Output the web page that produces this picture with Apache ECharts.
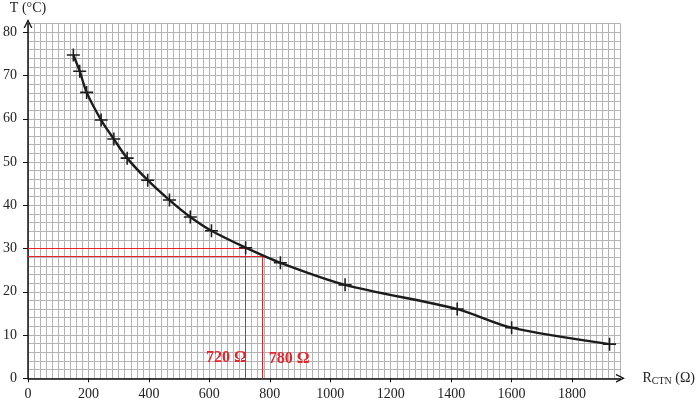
<!DOCTYPE html>
<html>
<head>
<meta charset="utf-8">
<script src="https://cdn.jsdelivr.net/npm/echarts@6/dist/echarts.min.js"></script>
<style>
html,body{margin:0;padding:0;background:#fff;}
#chart{width:698px;height:402px;}
</style>
</head>
<body>
<div id="chart"></div>
<script>
// ---- data ----
const resistance = [150, 171, 194, 242, 284, 328, 396, 468, 537, 607, 720, 835, 1049, 1420, 1600, 1924];
const temperature = [74.75, 71.0, 66.1, 59.7, 55.3, 50.9, 45.8, 41.2, 37.3, 34.1, 30.2, 26.7, 21.6, 16.0, 11.7, 7.9];
const xTickLabels = [0, 200, 400, 600, 800, 1000, 1200, 1400, 1600, 1800];
const yTickLabels = [0, 10, 20, 30, 40, 50, 60, 70, 80];
const readR = [720, 774];
const readT = [30, 28.3];
const readLabels = ['720 Ω', '780 Ω'];
const readLabelPos = [[656, 4.7], [864, 4.6]];

const serif = '"Liberation Serif", "DejaVu Serif", serif';
const red = '#e8232b';
const chevron = 'path://M0,10 L5,0 L10,10 L8.4,10 L5,3.2 L1.6,10 Z';
const cross = 'path://M4.4,0 H5.6 V4.4 H10 V5.6 H5.6 V10 H4.4 V5.6 H0 V4.4 H4.4 Z';

const points = resistance.map((r, i) => [r, temperature[i]]);

const markLines = [];
readR.forEach((r, i) => {
  markLines.push([{ coord: [0, readT[i]] }, { coord: [r, readT[i]] }]);
  markLines.push([{ coord: [r, 0] }, { coord: [r, readT[i]] }]);
});

const gridLine = { show: true, lineStyle: { color: '#b3b3b3', width: 1 } };

const chart = echarts.init(document.getElementById('chart'), null, { renderer: 'canvas' });
chart.setOption({
  animation: false,
  backgroundColor: '#fff',
  grid: { left: 27.3, top: 23.6, width: 594, height: 354.7, containLabel: false },
  xAxis: [
    {
      type: 'value', min: 0, max: 1960, interval: 20,
      axisLine: { show: false }, axisTick: { show: false }, axisLabel: { show: false },
      splitLine: gridLine
    },
    {
      type: 'value', min: 0, max: 1960, interval: 200, position: 'bottom',
      name: 'R{sub|CTN} (Ω)', nameLocation: 'end', nameGap: 22,
      nameTextStyle: {
        fontFamily: serif, fontSize: 14, color: '#222', align: 'left', verticalAlign: 'middle',
        rich: { sub: { fontFamily: serif, fontSize: 10, color: '#222', verticalAlign: 'bottom', padding: [6, 0, 0, 0] } }
      },
      axisLine: { show: true, onZero: false, lineStyle: { color: '#111', width: 1.5 }, symbol: ['none', chevron], symbolSize: [9, 9] },
      axisTick: { show: true, customValues: xTickLabels, length: 4, lineStyle: { color: '#111', width: 1 } },
      axisLabel: { show: true, customValues: xTickLabels, margin: 9, fontFamily: serif, fontSize: 14, color: '#222', formatter: v => String(v) },
      splitLine: { show: false }
    }
  ],
  yAxis: [
    {
      type: 'value', min: 0, max: 82, interval: 2,
      axisLine: { show: false }, axisTick: { show: false }, axisLabel: { show: false },
      splitLine: gridLine
    },
    {
      type: 'value', min: 0, max: 82, interval: 10, position: 'left',
      name: 'T (°C)', nameLocation: 'end', nameGap: 8,
      nameTextStyle: { fontFamily: serif, fontSize: 14, color: '#222', align: 'center', verticalAlign: 'bottom' },
      axisLine: { show: true, onZero: false, lineStyle: { color: '#111', width: 1.5 }, symbol: ['none', chevron], symbolSize: [9, 9] },
      axisTick: { show: true, customValues: yTickLabels, length: 5, lineStyle: { color: '#111', width: 1 } },
      axisLabel: { show: true, customValues: yTickLabels, margin: 11, fontFamily: serif, fontSize: 14, color: '#222', formatter: v => String(v) },
      splitLine: { show: false }
    }
  ],
  series: [
    {
      type: 'line',
      xAxisIndex: 1, yAxisIndex: 1,
      data: [],
      silent: true,
      markLine: {
        silent: true, symbol: ['none', 'none'], label: { show: false },
        lineStyle: { color: red, width: 1, type: 'solid' },
        data: markLines
      },
      markPoint: {
        silent: true, symbol: 'circle', symbolSize: 0,
        label: { show: true, position: 'inside', formatter: '{b}', fontFamily: serif, fontSize: 16, fontWeight: 'bold', color: red },
        data: readLabels.map((t, i) => ({ name: t, coord: readLabelPos[i] }))
      }
    },
    {
      type: 'line',
      xAxisIndex: 1, yAxisIndex: 1,
      data: points,
      smooth: 0.3,
      showAllSymbol: true,
      symbol: cross,
      symbolSize: 13,
      lineStyle: { color: '#1c1c1c', width: 2.4 },
      itemStyle: { color: '#1c1c1c' },
      z: 5
    }
  ]
});
</script>
</body>
</html>
